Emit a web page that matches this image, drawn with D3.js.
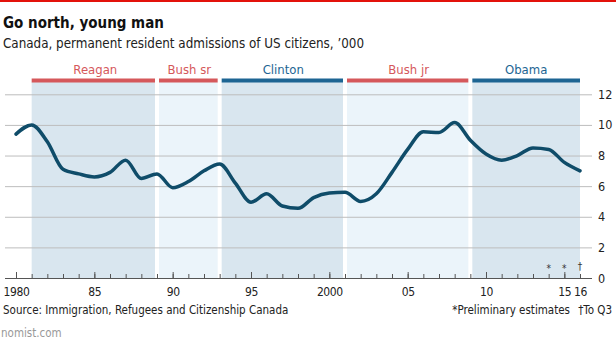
<!DOCTYPE html>
<html>
<head>
<meta charset="utf-8">
<script src="https://cdn.jsdelivr.net/npm/d3@7"></script>
<style>
  body { margin: 0; background: #fff; }
  svg text { font-family: "DejaVu Sans Condensed", "Open Sans", sans-serif; }
</style>
</head>
<body>
<div class="chart"></div>
<script>
var w = 616;
var h = 346;

// data
var years = [1980, 1981, 1982, 1983, 1984, 1985, 1986, 1987, 1988, 1989,
             1990, 1991, 1992, 1993, 1994, 1995, 1996, 1997, 1998, 1999,
             2000, 2001, 2002, 2003, 2004, 2005, 2006, 2007, 2008, 2009,
             2010, 2011, 2012, 2013, 2014, 2015, 2016];
var admissions = [9.4, 10.0, 8.9, 7.1, 6.8, 6.6, 6.9, 7.7, 6.5, 6.8,
                  5.9, 6.3, 7.0, 7.45, 6.2, 4.95, 5.5, 4.7, 4.55, 5.25,
                  5.55, 5.6, 5.0, 5.5, 6.9, 8.4, 9.55, 9.5, 10.15, 9.0,
                  8.1, 7.7, 8.0, 8.5, 8.4, 7.55, 7.0];

var presidents = ["Reagan", "Bush sr", "Clinton", "Bush jr", "Obama"];
var termStart = [1981, 1989, 1993, 2001, 2009];
var termEnd = [1989, 1993, 2001, 2009, 2016];
var party = ["R", "R", "D", "R", "D"];

var yTicks = [0, 2, 4, 6, 8, 10, 12];
var xLabelYears = [1980, 1985, 1990, 1995, 2000, 2005, 2010, 2015, 2016];
var xLabels = ["1980", "85", "90", "95", "2000", "05", "10", "15", "16"];
var noteYears = [2014, 2015, 2016];
var noteMarks = ["*", "*", "\u2020"];

var partyColor = {R: "#d5585b", D: "#1d6593"};
var bandColors = ["#d9e6ef", "#ebf4fa"];

var svg = d3.select(".chart")
            .append("svg")
            .attr("width", w)
            .attr("height", h);

// scales
var xScale = d3.scaleLinear().domain([1980, 2016]).range([16, 580]);
var yScale = d3.scaleLinear().domain([0, 12]).range([278, 94.3]);

// red strip
svg.append("rect").attr("x", 0).attr("y", 0).attr("width", w).attr("height", 2)
   .attr("fill", "#e3120b");

svg.append("text").attr("x", 3).attr("y", 28)
   .attr("font-size", 15).attr("font-weight", "bold").attr("fill", "#111")
   .text("Go north, young man");
svg.append("text").attr("x", 3).attr("y", 48)
   .attr("font-size", 13.3).attr("fill", "#222")
   .text("Canada, permanent resident admissions of US citizens, \u2019000");

// presidency bands
var terms = presidents.map(function(p, i) {
  return {name: p, start: termStart[i], end: termEnd[i], party: party[i], idx: i};
});

function bandX(d) { return xScale(d.start) + (d.start == 1981 ? 0 : 2); }
function bandW(d) {
  return xScale(d.end) - xScale(d.start) - (d.start == 1981 ? 2 : 4) + (d.end == 2016 ? 2 : 0);
}

svg.selectAll("rect.band")
   .data(terms)
   .enter()
   .append("rect")
   .attr("class", "band")
   .attr("x", bandX)
   .attr("y", 82)
   .attr("width", bandW)
   .attr("height", 278 - 82)
   .attr("fill", (d) => bandColors[d.idx % 2]);

svg.selectAll("rect.term")
   .data(terms)
   .enter()
   .append("rect")
   .attr("class", "term")
   .attr("x", bandX)
   .attr("y", 78.5)
   .attr("width", bandW)
   .attr("height", 4)
   .attr("fill", (d) => partyColor[d.party]);

svg.selectAll("text.term")
   .data(terms)
   .enter()
   .append("text")
   .attr("class", "term")
   .attr("x", (d) => (xScale(d.start) + xScale(d.end)) / 2 + 1)
   .attr("y", 74)
   .attr("text-anchor", "middle")
   .attr("font-size", 13)
   .attr("fill", (d) => partyColor[d.party])
   .text((d) => d.name);

// y grid + labels on the right
var yAxis = svg.append("g")
   .attr("transform", "translate(592,0)")
   .call(d3.axisRight(yScale).tickValues(yTicks).tickSize(-587).tickPadding(6));
yAxis.select(".domain").remove();
yAxis.selectAll("line").attr("stroke", (d) => d == 0 ? "#555" : "#bdbdbd");
yAxis.selectAll("text").attr("font-size", 12.5).attr("fill", "#222")
   .style("font-family", '"DejaVu Sans Condensed", sans-serif');

// x ticks (upward)
var minor = svg.append("g")
   .attr("transform", "translate(0,278)")
   .call(d3.axisTop(xScale).tickValues(years).tickSize(4).tickFormat(""));
minor.select(".domain").remove();
minor.selectAll("line").attr("stroke", "#555");

var major = svg.append("g")
   .attr("transform", "translate(0,278)")
   .call(d3.axisTop(xScale).tickValues([1980, 1985, 1990, 1995, 2000, 2005, 2010, 2015]).tickSize(6).tickFormat(""));
major.select(".domain").remove();
major.selectAll("line").attr("stroke", "#555");

var xLab = svg.append("g")
   .attr("transform", "translate(0,278)")
   .call(d3.axisBottom(xScale).tickValues(xLabelYears).tickSize(0).tickPadding(9)
         .tickFormat((d, i) => xLabels[i]));
xLab.select(".domain").remove();
xLab.selectAll("text").attr("font-size", 12).attr("fill", "#222")
   .attr("letter-spacing", -0.4)
   .style("font-family", '"DejaVu Sans Condensed", sans-serif');

// line
var line = d3.line()
   .x((d, i) => xScale(years[i]))
   .y((d) => yScale(d))
   .curve(d3.curveMonotoneX);

svg.append("path")
   .datum(admissions)
   .attr("d", line)
   .attr("fill", "none")
   .attr("stroke", "#0f4c69")
   .attr("stroke-width", 3.5)
   .attr("stroke-linejoin", "round")
   .attr("stroke-linecap", "round");

// footnote marks
svg.selectAll("text.note")
   .data(noteYears)
   .enter()
   .append("text")
   .attr("class", "note")
   .attr("x", (d) => xScale(d))
   .attr("y", (d, i) => i == 2 ? 270 : 272)
   .attr("text-anchor", "middle")
   .attr("font-size", 10)
   .attr("fill", "#333")
   .text((d, i) => noteMarks[i]);

// footer
svg.append("text").attr("x", 3).attr("y", 314)
   .attr("font-size", 11.5).attr("fill", "#222")
   .text("Source: Immigration, Refugees and Citizenship Canada");
svg.append("text").attr("x", 570).attr("y", 314)
   .attr("text-anchor", "end")
   .attr("font-size", 11.5).attr("fill", "#222")
   .text("*Preliminary estimates");
svg.append("text").attr("x", 612).attr("y", 314)
   .attr("text-anchor", "end")
   .attr("font-size", 11.5).attr("fill", "#222")
   .text("\u2020To Q3");
svg.append("text").attr("x", 1).attr("y", 337)
   .attr("font-size", 11.5).attr("fill", "#999")
   .text("nomist.com");
</script>
</body>
</html>
